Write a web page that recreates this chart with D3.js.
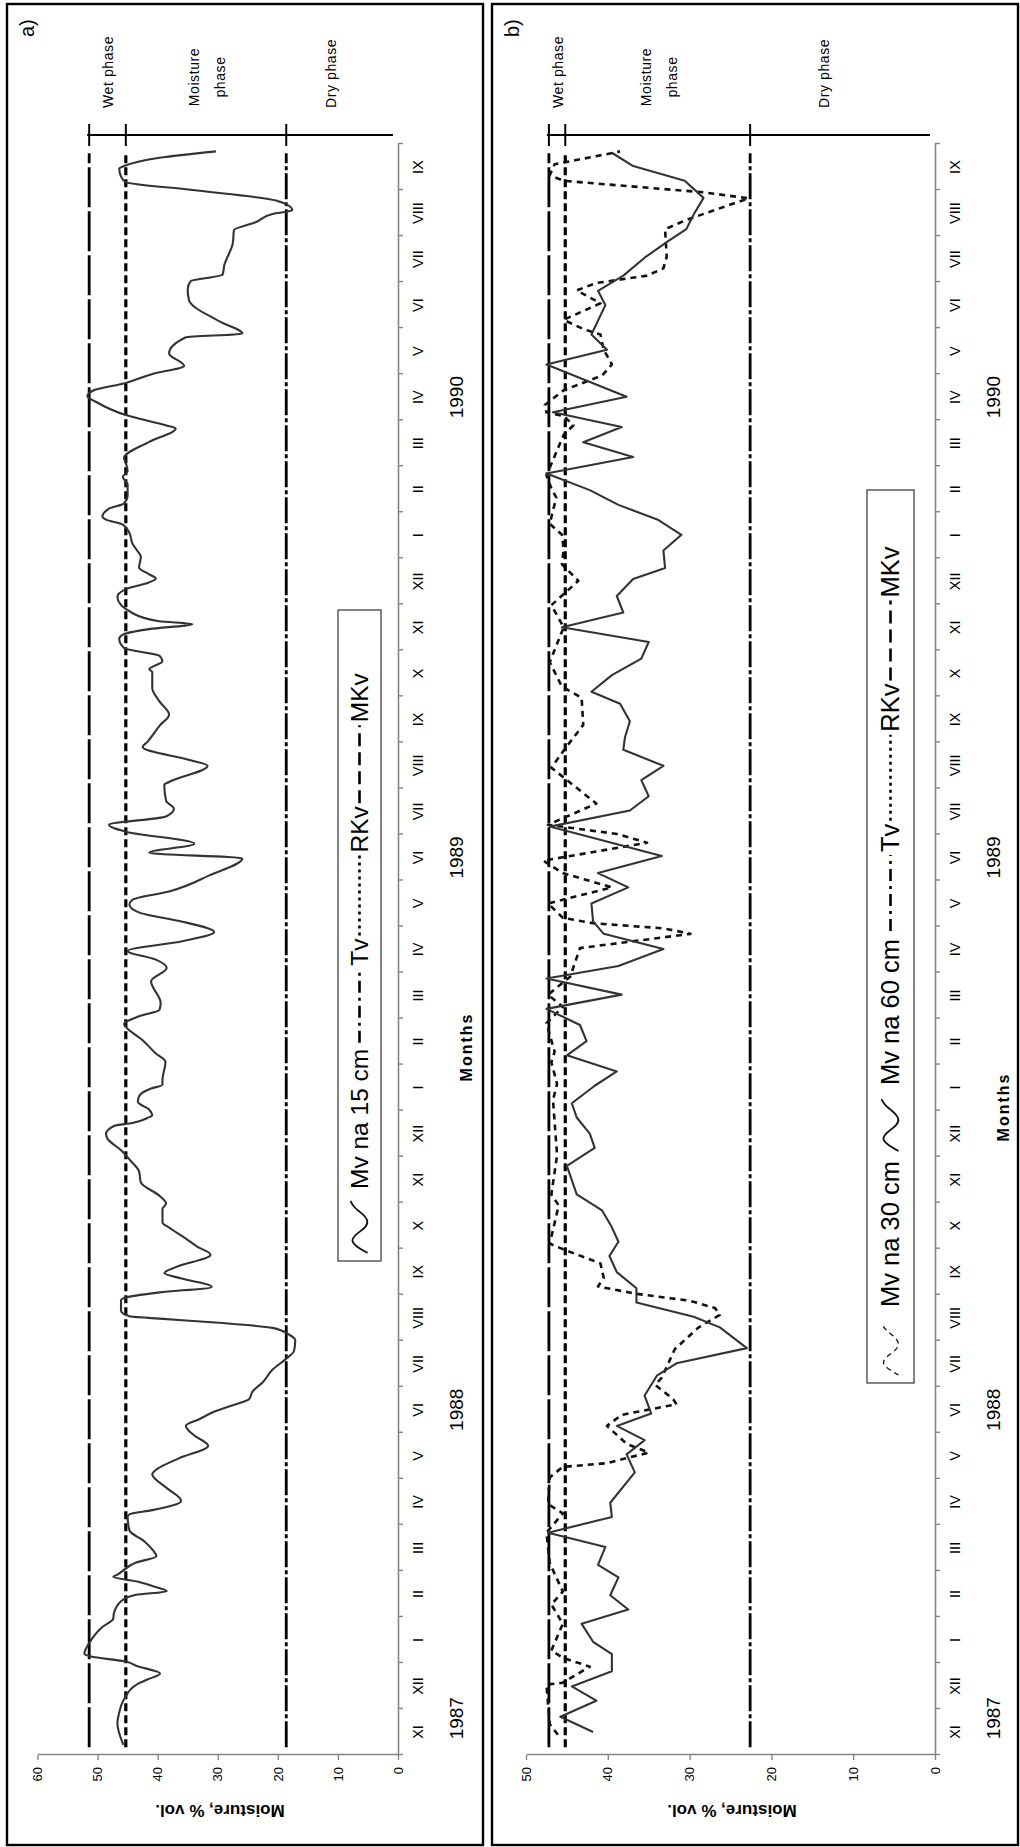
<!DOCTYPE html>
<html>
<head>
<meta charset="utf-8">
<script src="https://cdn.jsdelivr.net/npm/d3@7"></script>
<style>
  html, body { margin: 0; padding: 0; background: #fff; }
  svg { display: block; font-family: "Liberation Sans", Arial, sans-serif; }
</style>
</head>
<body>
<script>
// Month categories from XI 1987 to IX 1990 (one band per month)
const months = ['XI','XII','I','II','III','IV','V','VI','VII','VIII','IX','X',
                'XI','XII','I','II','III','IV','V','VI','VII','VIII','IX','X',
                'XI','XII','I','II','III','IV','V','VI','VII','VIII','IX'];
const years = ['1987','1988','1989','1990'];
// month (in bands from XI 1987) each year label sits beside
const yearAnchor = [0.8, 7.5, 19.5, 29.5];

// Soil-water constants (MKv, RKv, Tv) for each profile
const levelNames = ['MKv','RKv','Tv'];
const aLevels = [51.4, 45.3, 18.6];
const bLevels = [47.2, 45.2, 22.6];

// a) moisture at 15 cm: time in months since 1 XI 1987, value in % vol.
const a15t = [0.22,0.69,0.92,1.21,1.56,1.64,1.77,1.94,2.03,2.14,2.20,2.43,2.78,2.96,3.07,3.34,3.48,3.56,3.65,3.76,3.87,3.92,
  4.18,4.32,4.45,4.64,4.88,5.17,5.23,5.32,5.52,5.81,6.10,6.22,6.45,6.72,6.95,7.15,7.30,7.44,7.60,7.73,7.90,8.10,8.37,8.60,8.78,
  9.01,9.13,9.28,9.39,9.48,9.53,9.65,9.88,9.94,10.05,10.17,10.35,10.47,10.60,10.87,11.05,11.22,11.46,11.57,11.86,11.98,12.15,
  12.44,12.68,12.91,13.14,13.38,13.49,13.67,13.73,13.84,13.90,14.02,14.19,14.31,14.48,14.56,14.66,15.06,15.24,15.53,15.82,15.88,
  16.05,16.19,16.34,16.81,17.10,17.28,17.47,17.68,17.88,18.12,18.29,18.47,18.58,18.76,19.11,19.48,19.60,19.80,20.06,20.21,20.39,
  20.56,20.73,21.08,21.14,21.49,21.61,21.90,22.01,22.36,22.60,22.89,23.18,23.53,23.59,23.76,23.88,24.05,24.25,24.34,24.46,24.57,
  24.63,24.81,25.16,25.33,25.45,25.56,25.65,25.80,26.03,26.20,26.32,26.55,26.73,26.84,26.90,27.08,27.19,27.37,27.60,27.77,27.89,
  28.07,28.18,28.53,28.82,28.88,29.11,29.40,29.52,29.64,29.81,30.00,30.18,30.45,30.80,30.88,31.15,31.61,31.85,32.02,32.16,32.37,
  32.84,33.13,33.30,33.48,33.56,33.77,34.00,34.17,34.29,34.47,34.52,34.70,34.84];
const a15v = [45.7,46.7,46.4,45.6,43.1,41.7,39.6,43.6,45.3,51.1,52.2,51.4,49.2,47.4,47.3,46.1,43.6,38.5,40.3,43.1,47.4,46.7,
  43.6,40.2,40.8,42.2,44.7,45.0,44.7,40.9,36.1,38.6,40.9,40.0,36.4,31.6,34.0,35.3,33.0,30.9,27.5,24.8,24.2,22.5,20.9,18.7,17.3,
  17.1,18.1,20.9,29.8,39.7,44.7,46.1,46.1,45.3,39.7,31.0,36.0,38.9,37.0,31.2,33.5,35.3,38.1,39.2,39.2,38.6,39.7,
  42.8,43.1,44.5,46.1,48.3,48.6,47.2,44.2,41.7,40.9,41.4,43.3,43.1,41.1,39.2,39.2,38.7,40.3,42.5,45.3,45.6,
  43.1,39.7,39.5,41.1,38.5,40.3,45.0,35.9,30.6,36.4,42.8,44.7,44.2,38.1,31.4,25.9,41.4,33.9,45.3,48.1,38.6,
  37.3,38.6,38.9,38.1,31.7,34.5,42.5,41.7,39.7,38.1,39.7,40.9,40.9,41.4,39.2,39.7,45.6,46.4,45.8,41.4,34.2,
  39.7,44.2,46.7,45.3,42.0,40.3,41.4,43.1,42.8,43.6,44.2,44.7,45.8,48.6,49.2,48.1,45.6,45.0,45.0,45.8,45.0,
  45.3,45.6,41.4,37.0,38.4,45.3,50.3,51.7,50.8,45.3,41.0,35.6,38.1,35.3,25.9,29.8,34.8,35.0,34.5,29.2,28.9,
  27.5,27.3,23.7,20.9,17.6,20.3,34.2,45.3,46.1,46.4,45.6,39.7,30.3];

// b) moisture at 60 cm
const b60t = [0.50,0.83,1.18,1.49,1.82,2.19,2.46,2.85,3.16,3.47,3.86,4.13,4.52,4.83,5.17,5.48,6.14,6.53,6.84,7.15,7.42,7.81,
  8.24,8.51,8.84,9.29,9.52,9.83,10.14,10.49,10.84,11.15,11.50,11.83,12.18,12.80,13.19,13.50,13.85,14.16,14.54,14.85,15.20,15.51,
  15.86,16.21,16.52,16.87,17.14,17.51,17.84,18.11,18.50,18.85,19.16,19.53,20.17,20.52,20.83,21.18,21.49,21.84,22.11,22.46,22.84,
  23.10,23.46,23.82,24.18,24.50,24.82,25.18,25.55,25.79,26.17,26.51,26.83,27.16,27.48,27.84,28.20,28.52,28.85,29.17,29.51,30.21,
  30.53,30.86,31.50,31.81,32.14,32.53,32.87,33.15,33.47,33.83,34.20,34.52,34.81];
const b60v = [41.8,45.8,41.4,44.4,39.5,39.5,41.8,43.2,37.5,39.7,38.7,41.2,40.3,47.3,39.5,39.7,36.7,37.7,35.5,38.9,34.7,35.5,
  34.0,31.6,23.0,26.3,29.5,36.5,36.5,38.9,39.8,38.7,39.6,40.7,43.8,45.0,41.6,42.2,43.8,44.4,41.6,38.9,45.0,42.6,
  43.4,47.5,38.3,47.5,38.7,33.2,40.5,41.8,42.0,37.5,41.2,33.4,47.1,37.3,35.0,35.9,33.2,38.1,37.9,37.3,38.5,
  42.0,39.5,35.9,35.0,45.6,38.1,38.9,36.9,33.0,33.2,31.0,33.8,38.7,42.2,47.5,36.9,43.0,38.3,46.7,37.7,47.5,
  40.1,42.0,40.3,41.2,38.1,35.5,32.8,30.4,29.5,28.3,30.6,36.9,39.5];

// b) moisture at 30 cm
const b30t = [0.44,0.67,1.53,1.57,1.92,2.11,2.27,2.85,3.27,3.55,4.17,4.83,5.25,5.45,6.03,6.26,6.34,6.57,6.76,7.15,7.39,7.62,
  7.73,8.04,8.20,8.82,9.29,9.56,9.71,9.87,10.02,10.18,10.37,10.68,10.99,11.11,11.94,12.18,13.03,14.23,14.58,15.05,15.28,15.90,
  16.25,16.52,16.91,17.53,17.84,17.96,18.07,18.19,18.50,18.85,19.16,19.43,19.82,20.01,20.21,20.67,21.45,21.87,22.38,22.97,23.21,
  23.74,24.50,24.98,25.51,25.87,26.19,26.51,26.75,27.32,27.52,27.80,28.68,28.89,29.09,29.17,29.33,29.65,29.97,30.21,30.53,30.86,
  30.98,31.18,31.54,31.82,31.98,32.14,32.30,32.55,33.15,33.35,33.82,33.95,34.20,34.32,34.56,34.76,34.84];
const b30v = [46.1,47.1,47.5,45.5,42.2,45.5,46.9,45.5,46.9,45.5,47.1,47.5,45.5,47.3,47.1,45.5,40.1,35.0,37.7,40.1,38.3,31.6,
  32.0,34.2,33.4,31.8,28.9,26.3,26.9,30.0,36.5,41.2,40.5,40.9,45.5,47.1,46.0,46.9,46.2,46.7,46.2,46.9,46.5,47.5,
  45.5,47.3,44.6,43.4,29.9,33.2,41.8,45.5,47.3,39.5,45.5,47.9,35.2,38.9,47.3,41.4,46.9,45.2,43.0,43.2,45.6,
  47.1,45.4,46.9,43.6,45.6,45.4,45.6,47.1,46.3,46.9,47.5,45.4,44.2,45.4,47.5,47.7,45.4,40.7,39.5,40.5,40.9,
  43.0,45.4,40.9,43.8,41.4,35.2,33.2,32.8,33.0,30.4,22.8,28.3,45.4,47.1,46.5,40.7,38.5];

// Extent of the constant lines, in months
const levelSpan = [0.17, 34.8];

// ---------------------------------------------------------------------------
// The figure is laid out landscape (time left to right) and turned a quarter
// turn anticlockwise onto the portrait page.
const PAGE_W = 1020, PAGE_H = 1847;
const svg = d3.select('body').append('svg')
  .attr('width', PAGE_W).attr('height', PAGE_H);
svg.append('rect').attr('width', PAGE_W).attr('height', PAGE_H).attr('fill', '#fff');
const root = svg.append('g').attr('transform', `translate(0,${PAGE_H}) rotate(-90)`);

const x = d3.scaleLinear().domain([0, months.length]).range([92, 1703]);

const levelDash = { MKv: '40,4', RKv: '8,4', Tv: '26,3,4,3' };
const legendDash = { MKv: '13,6', RKv: '3,4', Tv: '12,5,3,5' };

function squiggle(g, x0, yMid, dashed) {
  const pts = [[0, 8], [7, -4], [13, -9], [20, -2], [26, 7], [33, 9], [40, 2], [46, -6], [52, -9]];
  g.append('path')
    .attr('d', d3.line().curve(d3.curveBasis)(pts.map(p => [x0 + p[0], yMid + p[1]])))
    .attr('fill', 'none').attr('stroke', '#111')
    .attr('stroke-width', dashed ? 1.3 : 1.8)
    .attr('stroke-dasharray', dashed ? '5,4' : null);
}

function drawPanel(cfg) {
  const g = root.append('g');
  const y = d3.scaleLinear().domain([0, cfg.vmax]).range([cfg.y0, cfg.yTop]);

  // frame
  g.append('rect').attr('x', 2).attr('y', cfg.frame[0])
    .attr('width', 1841).attr('height', cfg.frame[1] - cfg.frame[0])
    .attr('fill', 'none').attr('stroke', '#000').attr('stroke-width', 2.4);

  // panel letter
  g.append('text').attr('x', 1810).attr('y', cfg.frame[0] + 27)
    .attr('font-size', 20).text(cfg.letter);

  // value axis
  const ya = g.append('g').attr('transform', `translate(${x(0)},0)`)
    .call(d3.axisLeft(y).tickValues(d3.range(0, cfg.vmax + 1, 10))
      .tickSize(5).tickSizeOuter(0).tickPadding(7));
  ya.select('.domain').attr('stroke', '#858585').attr('stroke-width', 1.6);
  ya.selectAll('.tick line').attr('stroke', '#858585').attr('stroke-width', 1.4);
  ya.selectAll('.tick text').attr('font-size', 13).attr('font-family', null).attr('fill', '#000');

  // month axis: ticks between the monthly bands
  const xa = g.append('g').attr('transform', `translate(0,${cfg.y0})`)
    .call(d3.axisBottom(x).tickValues(d3.range(0, months.length + 1))
      .tickSize(5).tickSizeOuter(0).tickFormat(''));
  xa.select('.domain').attr('stroke', '#858585').attr('stroke-width', 1.6);
  xa.selectAll('.tick line').attr('stroke', '#858585').attr('stroke-width', 1.4);

  g.selectAll(null).data(months).join('text')
    .attr('x', (d, i) => x(i + 0.5)).attr('y', cfg.y0 + 25)
    .attr('text-anchor', 'middle').attr('font-size', 14.5).text(d => d);

  g.selectAll(null).data(years).join('text')
    .attr('x', (d, i) => x(yearAnchor[i])).attr('y', cfg.y0 + 65)
    .attr('text-anchor', 'middle').attr('font-size', 19).text(d => d);

  g.append('text').attr('x', cfg.monthsX).attr('y', cfg.y0 + 74)
    .attr('text-anchor', 'middle').attr('font-size', 16).attr('font-weight', 'bold')
    .attr('letter-spacing', 2).text('Months');

  g.append('text').attr('transform', `translate(42,${cfg.titleY}) rotate(-90)`)
    .attr('text-anchor', 'middle').attr('font-size', 17).attr('font-weight', 'bold')
    .text('Moisture, % vol.');

  // constant lines
  cfg.levels.forEach((v, i) => {
    g.append('line').attr('x1', x(levelSpan[0])).attr('x2', x(levelSpan[1]))
      .attr('y1', y(v)).attr('y2', y(v))
      .attr('stroke', '#000').attr('stroke-width', levelNames[i] === 'RKv' ? 3.2 : 2.8)
      .attr('stroke-dasharray', levelDash[levelNames[i]]);
  });

  // phase bar
  const barX = 1712;
  g.append('line').attr('x1', barX).attr('x2', barX)
    .attr('y1', y(cfg.levels[0]) - 2).attr('y2', y(0) - 5)
    .attr('stroke', '#000').attr('stroke-width', 2);
  cfg.levels.forEach(v => {
    g.append('line').attr('x1', barX - 11).attr('x2', barX + 11)
      .attr('y1', y(v)).attr('y2', y(v)).attr('stroke', '#000').attr('stroke-width', 2);
  });
  const wetY = (y(cfg.levels[0]) + y(cfg.levels[1])) / 2;
  const moistY = (y(cfg.levels[1]) + y(cfg.levels[2])) / 2;
  const dryY = y(cfg.levels[2]) + 0.4 * (y(0) - y(cfg.levels[2]));
  const ph = g.append('g').attr('font-size', 14).attr('letter-spacing', 0.6);
  ph.append('text').attr('x', 1739).attr('y', wetY + 6).text('Wet phase');
  ph.append('text').attr('x', 1770).attr('y', moistY - 7).attr('text-anchor', 'middle').text('Moisture');
  ph.append('text').attr('x', 1770).attr('y', moistY + 19).attr('text-anchor', 'middle').text('phase');
  ph.append('text').attr('x', 1739).attr('y', dryY + 5).text('Dry phase');

  // series
  cfg.series.forEach(s => {
    g.append('path')
      .attr('d', d3.line().x(d => x(d[0])).y(d => y(d[1])).curve(s.curve)(d3.zip(s.t, s.v)))
      .attr('fill', 'none').attr('stroke', s.color).attr('stroke-width', s.width)
      .attr('stroke-dasharray', s.dash).attr('stroke-linejoin', 'round');
  });

  // legend
  const L = cfg.legend;
  const lg = g.append('g');
  lg.append('rect').attr('x', L.x0).attr('y', L.y0).attr('width', L.x1 - L.x0).attr('height', L.y1 - L.y0)
    .attr('fill', '#fff').attr('stroke', '#333').attr('stroke-width', 1.2);
  const mid = (L.y0 + L.y1) / 2;
  let cx = L.x0 + 8;
  L.items.forEach(it => {
    if (it.squiggle) {
      squiggle(lg, cx, mid, it.squiggle === 'dashed');
      cx += 56 + it.gap;
    } else if (it.line) {
      lg.append('line').attr('x1', cx).attr('x2', cx + it.len).attr('y1', mid).attr('y2', mid)
        .attr('stroke', '#000').attr('stroke-width', 2.6).attr('stroke-dasharray', legendDash[it.line]);
      cx += it.len + it.gap;
    } else {
      const t = lg.append('text').attr('x', cx).attr('y', mid + 8.5)
        .attr('font-size', L.fs).text(it.text);
      cx += t.node().getComputedTextLength() + it.gap;
    }
  });
}

drawPanel({
  letter: 'a)', frame: [7, 483], vmax: 60, y0: 398, yTop: 37.5,
  levels: aLevels, titleY: 220, monthsX: 800,
  series: [
    { t: a15t, v: a15v, color: '#333', width: 2.1, dash: null, curve: d3.curveMonotoneX }
  ],
  legend: {
    x0: 586, x1: 1237, y0: 338, y1: 381, fs: 24.5,
    items: [
      { squiggle: 'solid', gap: 8 }, { text: 'Mv na 15 cm', gap: 6 },
      { line: 'Tv', len: 74, gap: 3 }, { text: 'Tv', gap: 3 },
      { line: 'RKv', len: 80, gap: 3 }, { text: 'RKv', gap: 3 },
      { line: 'MKv', len: 78, gap: 3 }, { text: 'MKv', gap: 0 }
    ]
  }
});

drawPanel({
  letter: 'b)', frame: [492, 1018], vmax: 50, y0: 935, yTop: 526,
  levels: bLevels, titleY: 732, monthsX: 740,
  series: [
    { t: b30t, v: b30v, color: '#111', width: 2.6, dash: '6,5', curve: d3.curveLinear },
    { t: b60t, v: b60v, color: '#333', width: 2.1, dash: null, curve: d3.curveLinear }
  ],
  legend: {
    x0: 464, x1: 1357, y0: 867, y1: 914, fs: 25.5,
    items: [
      { squiggle: 'dashed', gap: 12 }, { text: 'Mv na 30 cm', gap: 10 },
      { squiggle: 'solid', gap: 10 }, { text: 'Mv na 60 cm', gap: 8 },
      { line: 'Tv', len: 76, gap: 3 }, { text: 'Tv', gap: 3 },
      { line: 'RKv', len: 86, gap: 3 }, { text: 'RKv', gap: 3 },
      { line: 'MKv', len: 80, gap: 3 }, { text: 'MKv', gap: 0 }
    ]
  }
});
</script>
</body>
</html>
